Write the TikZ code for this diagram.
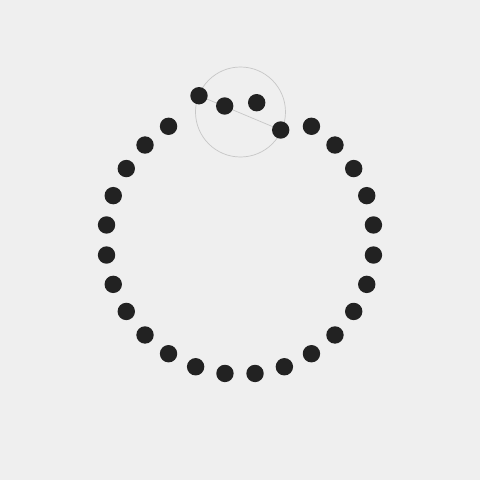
\documentclass[tikz,border=0pt]{standalone}
\usepackage{xcolor}
\usepackage{tikz}
\usetikzlibrary{positioning, backgrounds}

\definecolor{paper}{RGB}{239,239,239}
\definecolor{ink}{RGB}{34,34,34}

\tikzset{
  bead/.style={circle, fill=ink, inner sep=0pt, minimum size=0.435cm},
  guide/.style={draw=black!22, line width=0.5pt}
}

\begin{document}
\begin{tikzpicture}
    \begin{scope}
      \def\ringradius{3.3575cm}

      % Ring of beads, 12.857 deg apart
      \foreach \k in {0,...,11} {
        \pgfmathsetmacro{\ang}{276.43 + 12.857*\k}
        \node[bead] (b\k) at (\ang:\ringradius) {};
      }
      \foreach \k in {16,...,27} {
        \pgfmathsetmacro{\ang}{276.43 + 12.857*\k}
        \node[bead] (b\k) at (\ang:\ringradius) {};
      }

      % Moved beads
      \node[bead] (b15) at (-1.025cm, 3.6075cm) {};
      \node[bead] (b14) at (-0.3825cm, 3.35cm) {};
      \node[bead] (b13) at (0.4175cm, 3.4325cm) {};
      \node[bead] (b12) at (1.0175cm, 2.75cm) {};

      \begin{scope}[on background layer]
        \fill[paper] (-6cm, -6cm) rectangle (6cm, 6cm);
        % Lens circle round the moved beads
        \node[guide, circle, inner sep=0pt, minimum size=2.25cm] (lens) at (0.0125cm, 3.2cm) {};
        % Thread through the moved beads
        \draw[guide] (b15) -- (b12);
      \end{scope}
    \end{scope}
    \useasboundingbox (-6cm, -6cm) rectangle (6cm, 6cm);
  \end{tikzpicture}
\end{document}
